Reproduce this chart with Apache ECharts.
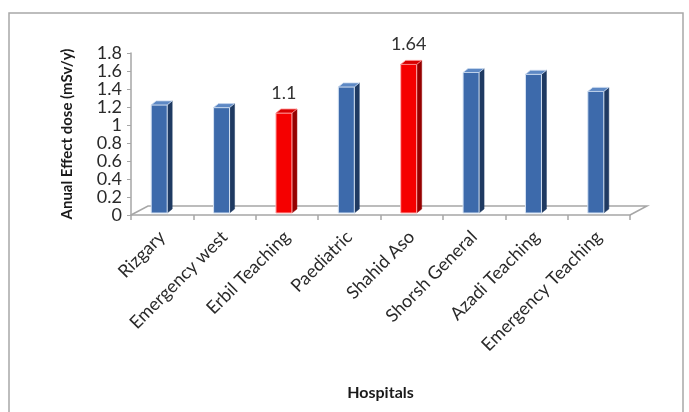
<!DOCTYPE html>
<html lang="en">
<head>
    <meta charset="UTF-8">
    <title>Anual Effect dose</title>
    <script src="https://cdn.jsdelivr.net/npm/echarts@6/dist/echarts.min.js"></script>
    <style>
        html, body { margin: 0; padding: 0; background: #fff; }
        #chart { width: 689px; height: 412px; }
    </style>
</head>
<body>
<div id="chart"></div>
<script>
    // data
    var hospitals = ['Rizgary', 'Emergency west', 'Erbil Teaching', 'Paediatric',
        'Shahid Aso', 'Shorsh General', 'Azadi Teaching', 'Emergency Teaching'];
    var doses = [1.19, 1.16, 1.1, 1.39, 1.64, 1.55, 1.53, 1.34];
    var highlighted = [2, 4];   // red bars, value shown on top
    var yTicks = [0, 0.2, 0.4, 0.6, 0.8, 1, 1.2, 1.4, 1.6, 1.8];

    var blue = { front: '#3d6aab', side: '#1f3a62', top: '#5d88c4' };
    var red = { front: '#f50000', side: '#960000', top: '#d80000' };

    function renderItem(params, api) {
        var i = api.value(0);
        var v = api.value(1);
        var p = api.coord([i, v]);
        var p0 = api.coord([i, 0]);
        var isRed = highlighted.indexOf(i) >= 0;
        var c = isRed ? red : blue;
        var left = p[0] - 11, w = 16, d = 5, h = 4;
        var yTop = p[1] - 3, yBase = p0[1] - 2;
        var children = [
            {   // side face
                type: 'polygon',
                shape: { points: [[left + w, yTop], [left + w + d, yTop - h], [left + w + d, yBase - h], [left + w, yBase]] },
                style: { fill: c.side, stroke: c.side, lineWidth: 0.5 }
            },
            {   // front face
                type: 'rect',
                shape: { x: left, y: yTop, width: w, height: yBase - yTop },
                style: { fill: c.front, stroke: isRed ? '#ffb0b0' : '#d6e3f3', lineWidth: 1 }
            },
            {   // top cap
                type: 'polygon',
                shape: { points: [[left, yTop], [left + d, yTop - h], [left + w + d, yTop - h], [left + w, yTop]] },
                style: { fill: c.top, stroke: isRed ? '#ff9090' : '#c8d8ee', lineWidth: 0.8 }
            }
        ];
        if (isRed) {
            children.push({
                type: 'text',
                style: {
                    text: String(v), x: left + 8, y: yTop - h - 7,
                    align: 'center', verticalAlign: 'bottom',
                    font: '18px Lato', fill: '#333'
                }
            });
        }
        return { type: 'group', children: children };
    }

    var seriesData = doses.map(function (d, i) { return [i, d]; });

    var option = {
        backgroundColor: '#fff',
        animation: false,
        grid: { left: 131, right: 59, top: 53, bottom: 197 },
        xAxis: {
            type: 'category',
            data: hospitals,
            name: 'Hospitals',
            nameLocation: 'middle',
            nameGap: 170,
            nameTextStyle: { fontFamily: 'Lato', fontWeight: 'bold', fontSize: 16, color: '#1a1a1a' },
            axisLine: { lineStyle: { color: '#a6a6a6', width: 1.5 } },
            axisTick: { show: true, length: 5, lineStyle: { color: '#a6a6a6', width: 1.5 } },
            axisLabel: { rotate: 45, margin: 19, interval: 0, fontFamily: 'Lato', fontSize: 18, color: '#2a2a2a' },
            splitLine: { show: false }
        },
        yAxis: {
            type: 'value',
            min: 0, max: 1.8, interval: 0.2,
            name: 'Anual Effect dose (mSv/y)',
            nameLocation: 'middle',
            nameRotate: 90,
            nameGap: 56,
            nameTextStyle: { fontFamily: 'Lato', fontWeight: 'bold', fontSize: 15, color: '#1a1a1a' },
            axisLine: { show: true, lineStyle: { color: '#a6a6a6', width: 1.5 } },
            axisTick: { show: true, length: 4, lineStyle: { color: '#a6a6a6' } },
            axisLabel: {
                margin: 9, fontFamily: 'Lato', fontSize: 18, color: '#2a2a2a',
                formatter: function (val) {
                    var t = yTicks.filter(function (x) { return Math.abs(x - val) < 1e-6; });
                    return t.length ? String(t[0]) : '';
                }
            },
            splitLine: { show: false }
        },
        graphic: [
            {   // outer frame
                type: 'rect', z: -1,
                shape: { x: 9, y: 13, width: 674, height: 410 },
                style: { fill: 'none', stroke: '#a8a8a8', lineWidth: 1.5 }
            },
            {   // 3D floor
                type: 'polyline', z: -1,
                shape: { points: [[131, 215], [148, 206], [647, 206], [630, 215]] },
                style: { fill: 'none', stroke: '#a6a6a6', lineWidth: 1.5 }
            }
        ],
        series: [{
            type: 'custom',
            renderItem: renderItem,
            encode: { x: 0, y: 1 },
            data: seriesData,
            z: 5
        }]
    };

    var myChart = echarts.init(document.getElementById('chart'));
    myChart.setOption(option);
</script>
</body>
</html>
